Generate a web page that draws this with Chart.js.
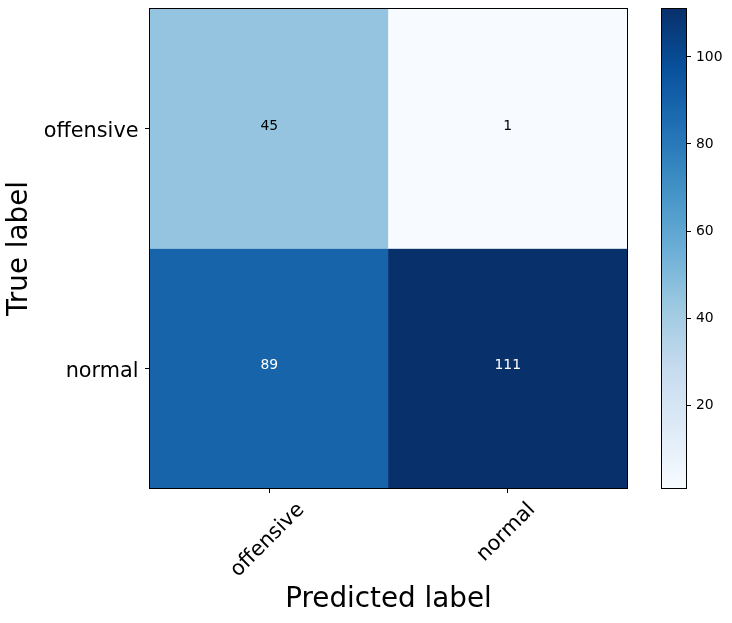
<!DOCTYPE html>
<html><head><meta charset="utf-8">
<script src="https://cdn.jsdelivr.net/npm/chart.js@4.4.0/dist/chart.umd.min.js"></script>
<style>
html,body{margin:0;padding:0;background:#fff;}
#wrap{position:relative;width:732px;height:623px;overflow:hidden;}
#main{position:absolute;left:0;top:0;}
#cbar{position:absolute;left:640px;top:0;}
</style></head><body>
<div id="wrap">
<canvas id="main" width="732" height="623" style="width:732px;height:623px"></canvas>
<canvas id="cbar" width="92" height="623" style="width:92px;height:623px"></canvas>
</div>
<script>
// ---- data ----
const predictedLabels = ['offensive', 'normal'];
const trueLabels = ['offensive', 'normal'];
const rowOffensive = [45, 1];
const rowNormal = [89, 111];
const colorbarTicks = [20, 40, 60, 80, 100];
const xTitle = 'Predicted label';
const yTitle = 'True label';

// ---- colormap (matplotlib Blues) ----
const BLUES = [[247,251,255],[222,235,247],[198,219,239],[158,202,225],[107,174,214],[66,146,198],[33,113,181],[8,81,156],[8,48,107]];
function blues(t){
  t = Math.max(0, Math.min(1, t));
  const p = t * 8; const i = Math.min(7, Math.floor(p)); const f = p - i;
  const a = BLUES[i], b = BLUES[i+1];
  return 'rgb(' + [0,1,2].map(k => Math.round(a[k] + (b[k]-a[k])*f)).join(',') + ')';
}

const matrix = [rowOffensive, rowNormal];
const allVals = matrix.flat();
const vmin = Math.min(...allVals), vmax = Math.max(...allVals);
const norm = v => (v - vmin) / (vmax - vmin);
const thresh = vmax / 2;

Chart.defaults.font.family = '"DejaVu Sans", sans-serif';
Chart.defaults.color = '#000';

const FS_TICK = 20.8, FS_TITLE = 27.8, FS_CELL = 13.9, FS_CB = 13.9;

const framePlugin = {
  id: 'frame',
  afterDraw(chart) {
    const a = chart.chartArea, ctx = chart.ctx;
    ctx.save();
    ctx.strokeStyle = '#000'; ctx.lineWidth = 1;
    ctx.strokeRect(Math.round(a.left) - 0.5, Math.round(a.top) - 0.5, Math.round(a.right - a.left) + 1, Math.round(a.bottom - a.top) + 1);
    ctx.restore();
  }
};

const cellTextPlugin = {
  id: 'cellText',
  afterDatasetsDraw(chart) {
    const ctx = chart.ctx;
    ctx.save();
    ctx.font = FS_CELL + 'px "DejaVu Sans"';
    ctx.textAlign = 'center'; ctx.textBaseline = 'middle';
    chart.data.datasets.forEach((ds, i) => {
      chart.getDatasetMeta(i).data.forEach((el, j) => {
        const v = ds.values[j];
        ctx.fillStyle = v > thresh ? '#fff' : '#000';
        ctx.fillText(String(v), el.x, (el.y + el.base) / 2 - 2.5);
      });
    });
    ctx.restore();
  }
};

const xLabelPlugin = {
  id: 'xLabels',
  afterDraw(chart) {
    const xs = chart.scales.x, ctx = chart.ctx;
    ctx.save();
    ctx.font = FS_TICK + 'px "DejaVu Sans"';
    ctx.fillStyle = '#000';
    ctx.textAlign = 'center'; ctx.textBaseline = 'middle';
    xs.ticks.forEach((t, i) => {
      const label = predictedLabels[i];
      const x = xs.getPixelForTick(i);
      const w = ctx.measureText(label).width;
      const h = FS_TICK * 1.17;
      const d = (w + h) * Math.SQRT1_2;
      const y0 = xs.top + 5 + 5;
      ctx.save();
      ctx.translate(x - 1.5, y0 + d / 2);
      ctx.rotate(-Math.PI / 4);
      ctx.fillText(label, 0, 0);
      ctx.restore();
    });
    ctx.restore();
  }
};

const gridOpts = { drawOnChartArea: false, drawTicks: true, tickLength: 5, color: '#000', lineWidth: 1, offset: false };

new Chart(document.getElementById('main'), {
  type: 'bar',
  data: {
    labels: predictedLabels,
    datasets: matrix.map((row, r) => ({
      label: trueLabels[r],
      data: row.map(() => [r, r + 1]),
      values: row,
      backgroundColor: row.map(v => blues(norm(v))),
      borderWidth: 0,
      barPercentage: 1,
      categoryPercentage: 1,
      grouped: false
    }))
  },
  options: {
    responsive: false,
    animation: false,
    layout: { padding: { left: 0, top: 9, right: 105, bottom: 0 } },
    plugins: { legend: { display: false }, tooltip: { enabled: false } },
    scales: {
      x: {
        type: 'category',
        offset: true,
        grid: gridOpts,
        border: { display: false },
        ticks: { display: false },
        title: { display: true, text: xTitle, color: '#000', font: { size: FS_TITLE }, padding: { top: 0, bottom: 7 } },
        afterFit: s => { s.height = 135; s.paddingLeft = 0; s.paddingRight = 0; }
      },
      y: {
        type: 'linear',
        min: 0, max: 2, reverse: true,
        afterBuildTicks: s => { s.ticks = [{ value: 0.5 }, { value: 1.5 }]; },
        ticks: {
          autoSkip: false, padding: 6.5, labelOffset: 3, color: '#000', font: { size: FS_TICK },
          callback: v => trueLabels[Math.floor(v)]
        },
        grid: gridOpts,
        border: { display: false },
        title: { display: true, text: yTitle, color: '#000', font: { size: FS_TITLE }, padding: { top: 3, bottom: 0 } },
        afterFit: s => { s.width = 150; s.paddingTop = 0; s.paddingBottom = 0; }
      }
    }
  },
  plugins: [cellTextPlugin, xLabelPlugin, framePlugin]
});

new Chart(document.getElementById('cbar'), {
  type: 'bar',
  data: {
    labels: ['colorbar'],
    datasets: [{
      data: [[vmin, vmax]],
      borderWidth: 0,
      barPercentage: 1,
      categoryPercentage: 1,
      backgroundColor: (c) => {
        const area = c.chart.chartArea;
        if (!area) return BLUES[0];
        const g = c.chart.ctx.createLinearGradient(0, area.bottom, 0, area.top);
        BLUES.forEach((rgb, i) => g.addColorStop(i / (BLUES.length - 1), 'rgb(' + rgb.join(',') + ')'));
        return g;
      }
    }]
  },
  options: {
    responsive: false,
    animation: false,
    layout: { padding: { left: 22, top: 9, right: 0, bottom: 135 } },
    plugins: { legend: { display: false }, tooltip: { enabled: false } },
    scales: {
      x: { display: false, offset: true },
      y: {
        type: 'linear', position: 'right',
        min: vmin, max: vmax,
        afterBuildTicks: s => { s.ticks = colorbarTicks.map(v => ({ value: v })); },
        ticks: { autoSkip: false, padding: 5, color: '#000', font: { size: FS_CB } },
        grid: gridOpts,
        border: { display: false },
        afterFit: s => { s.width = 46; s.paddingTop = 0; s.paddingBottom = 0; }
      }
    }
  },
  plugins: [framePlugin]
});
</script>
</body></html>
